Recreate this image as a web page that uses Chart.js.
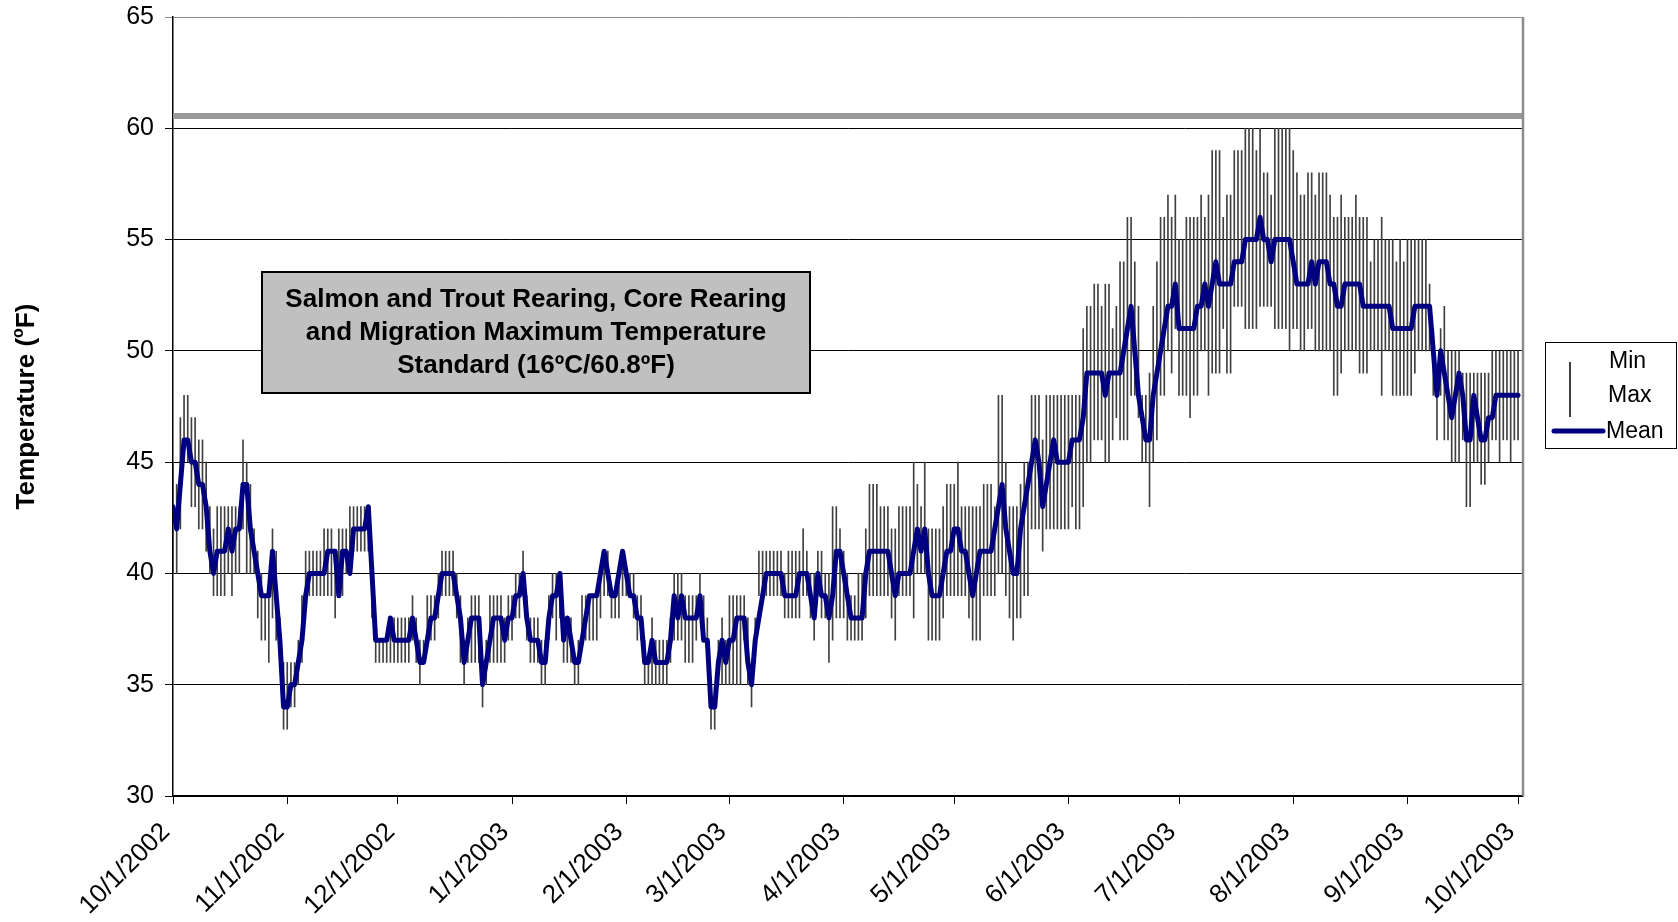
<!DOCTYPE html>
<html>
<head>
<meta charset="utf-8">
<script src="https://cdn.jsdelivr.net/npm/chart.js@4"></script>
<style>
  html, body { margin: 0; padding: 0; background: #fff; }
  #wrap { width: 1678px; height: 922px; position: relative; }
</style>
</head>
<body>
<div id="wrap"><canvas id="tempChart"></canvas></div>
<script>
'use strict';
// daily readings, day 0 = 10/1/2002
var meanT = [
  43,42,44,46,46,45,45,44,44,43,41,40,41,41,41,42,41,42,42,44,44,42,41,40,39,39,39,41,39,37,34,
  34,35,35,36,37,39,40,40,40,40,40,41,41,41,39,41,41,40,42,42,42,42,43,40,37,37,37,37,38,37,
  37,37,37,37,38,37,36,36,37,38,38,39,40,40,40,40,39,38,36,37,38,38,38,35,36,37,38,38,38,37,38,
  38,39,39,40,38,37,37,37,36,36,38,39,39,40,37,38,37,36,36,37,38,39,39,39,40,41,40,39,39,40,41,
  40,39,39,38,38,36,36,37,36,36,36,36,37,39,38,39,38,38,38,38,39,37,37,34,34,36,37,36,
  37,37,38,38,38,36,35,37,38,39,40,40,40,40,40,39,39,39,39,40,40,40,39,38,40,39,39,38,39,41,41,
  40,39,38,38,38,38,40,41,41,41,41,41,41,40,39,40,40,40,40,41,42,41,42,40,39,39,39,40,41,41,
  42,42,41,41,40,39,40,41,41,41,41,42,43,44,42,41,40,40,42,43,44,45,46,45,43,44,45,46,45,45,45,
  45,46,46,46,47,49,49,49,49,49,48,49,49,49,49,50,51,52,50,48,47,46,46,48,49,50,51,52,52,53,
  51,51,51,51,51,52,52,53,52,53,54,53,53,53,53,54,54,54,55,55,55,55,56,55,55,54,55,55,55,55,55,
  54,53,53,53,53,54,53,54,54,54,53,53,52,52,53,53,53,53,53,52,52,52,52,52,52,52,52,51,51,51,51,
  51,51,52,52,52,52,52,50,48,50,49,48,47,48,49,48,46,46,48,47,46,46,47,47,48,48,48,48,48,48,48
];
var maxT = [
  45,44,47,48,48,47,47,46,46,45,43,42,43,43,43,43,43,43,43,46,45,44,42,41,40,39,39,42,41,38,36,
  36,36,36,37,39,41,41,41,41,41,42,42,42,41,42,42,42,43,43,43,43,43,43,41,37,37,37,37,38,38,
  38,38,38,38,39,38,37,37,39,39,39,40,41,41,41,41,40,39,37,38,39,39,39,35,37,39,39,39,39,38,39,
  39,40,40,41,39,38,38,38,37,37,39,40,40,40,38,38,38,36,37,39,39,39,39,39,40,41,41,39,39,40,41,
  40,40,40,39,39,37,36,38,37,37,37,37,38,40,40,40,39,39,39,39,40,39,38,35,35,37,38,37,
  39,39,39,39,39,38,36,38,41,41,41,41,41,41,41,40,41,41,41,41,42,41,40,40,41,41,40,40,43,43,42,
  41,40,39,39,40,40,42,44,44,44,43,43,43,42,42,43,43,43,43,45,44,43,45,42,42,42,42,43,44,44,
  44,45,43,43,43,43,43,43,44,44,44,43,48,48,45,43,43,43,44,45,45,48,48,48,46,48,48,48,48,48,48,
  48,48,48,48,51,52,52,53,53,52,53,53,51,52,54,54,56,56,54,52,48,48,49,52,54,56,56,57,56,57,
  55,55,56,56,56,56,57,56,57,59,59,59,56,57,57,59,59,59,60,60,60,59,60,58,58,57,60,60,60,60,60,
  59,58,57,57,58,58,57,58,58,58,57,56,56,57,56,56,56,57,56,56,56,54,55,55,56,55,55,55,54,55,54,
  55,55,55,55,55,55,53,51,48,51,52,50,50,50,50,49,49,49,49,49,49,49,49,50,50,50,50,50,50,50,50
];
var minT = [
  40,40,42,45,45,43,43,42,42,41,40,39,39,39,39,40,39,40,40,42,40,40,40,38,37,37,36,38,37,36,33,
  33,34,34,35,36,39,39,39,39,39,39,39,39,38,40,39,40,40,41,41,41,41,41,38,36,36,36,36,36,36,
  36,36,36,36,37,36,35,36,37,37,37,38,39,39,39,39,38,36,35,36,36,36,36,34,35,36,36,36,36,36,37,
  37,38,38,39,37,36,36,36,35,35,37,38,37,38,36,36,36,35,35,37,37,37,37,37,38,39,39,38,38,38,39,
  39,39,38,37,37,35,35,35,35,35,35,35,36,37,37,37,36,36,36,37,39,37,36,33,33,35,35,35,
  35,35,35,35,37,35,34,36,39,39,39,39,39,39,39,38,38,38,38,38,39,39,38,37,39,38,38,36,37,38,38,
  38,37,37,37,37,37,38,39,39,39,39,39,39,38,37,39,39,39,39,38,40,40,40,37,37,37,37,38,39,39,
  39,39,39,39,38,37,37,37,39,39,39,39,40,40,39,38,37,38,38,39,39,42,42,42,41,42,42,42,42,42,42,
  42,43,42,42,43,45,45,46,46,46,45,45,46,47,46,46,46,48,48,47,45,45,43,45,46,48,48,50,49,51,
  48,48,48,47,48,48,50,50,48,49,49,49,51,49,49,52,52,52,51,51,51,51,52,52,52,52,51,51,51,51,50,
  51,51,50,50,51,51,50,50,50,50,50,48,48,49,50,50,50,50,49,49,49,50,50,50,48,50,50,48,48,48,48,
  48,48,49,50,50,50,50,48,46,48,46,46,45,45,45,46,43,43,45,45,44,44,45,46,46,45,46,46,45,46,46
];
var tickDays = [0, 31, 61, 92, 123, 151, 182, 212, 243, 273, 304, 335, 365];
var tickLabels = ['10/1/2002', '11/1/2002', '12/1/2002', '1/1/2003', '2/1/2003', '3/1/2003',
  '4/1/2003', '5/1/2003', '6/1/2003', '7/1/2003', '8/1/2003', '9/1/2003', '10/1/2003'];
var yTicks = [30, 35, 40, 45, 50, 55, 60, 65];
var stdLevel = 60.55;
var xEnd = 366.35;
var boxLines = ['Salmon and Trout Rearing, Core Rearing', 'and Migration Maximum Temperature', 'Standard (16\u00baC/60.8\u00baF)'];
var legendNames = ['Min', 'Max', 'Mean'];

var FONT = "'Liberation Sans', Arial, sans-serif";

var rangePts = meanT.map((m, d) => ({ x: d, y: [minT[d], maxT[d]] }));
var meanPts = meanT.map((m, d) => ({ x: d, y: m }));

//extra drawing: axis title, border, text box, legend
var decorPlugin = {
  id: 'decor',
  afterDraw: (chart) => {
    let ctx = chart.ctx;
    let area = chart.chartArea;
    ctx.save();
    // gray right border
    ctx.strokeStyle = '#8c8c8c';
    ctx.lineWidth = 2.5;
    ctx.beginPath();
    ctx.moveTo(area.right, area.top);
    ctx.lineTo(area.right, area.bottom);
    ctx.stroke();

    // y title with superscript o
    ctx.fillStyle = '#000';
    ctx.translate(27, (area.top + area.bottom) / 2);
    ctx.rotate(-Math.PI / 2);
    ctx.font = 'bold 26px ' + FONT;
    let p1 = 'Temperature (', p3 = 'F)';
    let w1 = ctx.measureText(p1).width, w3 = ctx.measureText(p3).width;
    ctx.font = 'bold 16px ' + FONT;
    let w2 = ctx.measureText('o').width;
    let x0 = -(w1 + w2 + w3) / 2;
    ctx.textBaseline = 'middle';
    ctx.textAlign = 'left';
    ctx.font = 'bold 26px ' + FONT;
    ctx.fillText(p1, x0, 0);
    ctx.font = 'bold 16px ' + FONT;
    ctx.fillText('o', x0 + w1, -8);
    ctx.font = 'bold 26px ' + FONT;
    ctx.fillText(p3, x0 + w1 + w2, 0);
    ctx.setTransform(1, 0, 0, 1, 0, 0);

    // standard text box
    ctx.fillStyle = '#c0c0c0';
    ctx.fillRect(262, 272, 548, 121);
    ctx.strokeStyle = '#000';
    ctx.lineWidth = 2;
    ctx.strokeRect(262, 272, 548, 121);
    ctx.fillStyle = '#000';
    ctx.font = 'bold 26px ' + FONT;
    ctx.textAlign = 'center';
    ctx.textBaseline = 'middle';
    boxLines.forEach((t, i) => {
      ctx.fillText(t, 536, 300 + i * 33);
    });

    // legend
    ctx.fillStyle = '#fff';
    ctx.fillRect(1545, 342, 131, 106);
    ctx.strokeStyle = '#000';
    ctx.lineWidth = 1;
    ctx.strokeRect(1545.5, 342.5, 131, 106);
    ctx.lineWidth = 1.5;
    ctx.beginPath();
    ctx.moveTo(1570, 362);
    ctx.lineTo(1570, 417);
    ctx.stroke();
    ctx.strokeStyle = '#000080';
    ctx.lineWidth = 5;
    ctx.lineCap = 'round';
    ctx.beginPath();
    ctx.moveTo(1554, 431);
    ctx.lineTo(1603, 431);
    ctx.stroke();
    ctx.fillStyle = '#000';
    ctx.font = '23px ' + FONT;
    ctx.textAlign = 'left';
    ctx.textBaseline = 'middle';
    ctx.fillText(legendNames[0], 1609, 362);
    ctx.fillText(legendNames[1], 1608, 396);
    ctx.fillText(legendNames[2], 1606, 432);
    ctx.restore();
  }
};

let ctx = document.getElementById('tempChart').getContext('2d');
// eslint-disable-next-line no-undef
new Chart(ctx, {
  type: 'bar',
  data: {
    datasets: [{
      type: 'line',
      label: 'Standard',
      data: [{ x: 0, y: stdLevel }, { x: xEnd, y: stdLevel }],
      borderColor: '#999999',
      borderWidth: 6,
      pointRadius: 0,
      order: 2
    }, {
      type: 'line',
      label: 'Mean',
      data: meanPts,
      borderColor: '#000080',
      borderWidth: 5,
      borderJoinStyle: 'round',
      borderCapStyle: 'round',
      pointRadius: 0,
      tension: 0,
      order: 1
    }, {
      type: 'bar',
      label: 'Min/Max',
      data: rangePts,
      backgroundColor: '#404040',
      borderWidth: 0,
      barThickness: 1,
      grouped: false,
      order: 3
    }]
  },
  options: {
    responsive: true,
    maintainAspectRatio: false,
    animation: false,
    layout: { padding: { left: 0, top: 17, right: 155, bottom: 0 } },
    plugins: {
      legend: { display: false },
      tooltip: { enabled: false }
    },
    scales: {
      x: {
        type: 'linear',
        min: 0,
        max: xEnd,
        offset: false,
        afterBuildTicks: (scale) => {
          scale.ticks = tickDays.map(v => ({ value: v }));
        },
        afterFit: (scale) => { scale.height = 126; },
        ticks: {
          autoSkip: false,
          maxRotation: 45,
          minRotation: 45,
          padding: 13,
          labelOffset: -7,
          color: '#000',
          font: { family: FONT, size: 26 },
          callback: (v) => tickLabels[tickDays.indexOf(v)]
        },
        grid: {
          offset: false,
          drawOnChartArea: false,
          tickLength: 8,
          color: '#000',
          lineWidth: 1
        },
        border: { color: '#000', width: 1.5 }
      },
      y: {
        min: 30,
        max: 65,
        afterBuildTicks: (scale) => {
          scale.ticks = yTicks.map(v => ({ value: v }));
        },
        afterFit: (scale) => {
          scale.width = 173;
          scale.paddingTop = 0;
          scale.paddingBottom = 0;
        },
        ticks: {
          padding: 11,
          color: '#000',
          font: { family: FONT, size: 25 }
        },
        grid: {
          tickLength: 8,
          lineWidth: 1,
          color: (c) => (c.tick && c.tick.value === 65 ? '#8c8c8c' : '#000')
        },
        border: { color: '#000', width: 1.5 }
      }
    }
  },
  plugins: [decorPlugin]
});
</script>
</body>
</html>
